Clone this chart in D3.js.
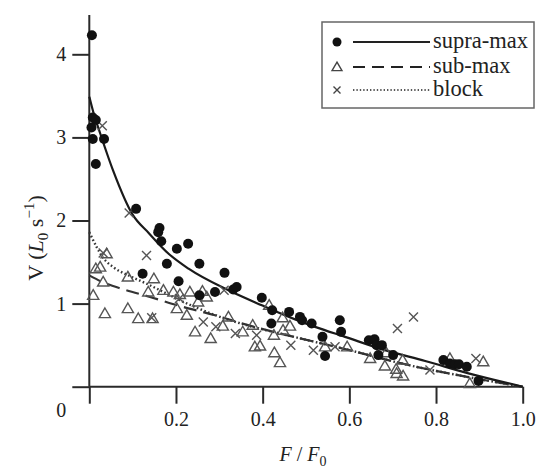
<!DOCTYPE html>
<html>
<head>
<meta charset="utf-8">
<script src="https://cdn.jsdelivr.net/npm/d3@7"></script>
<style>
  html, body { margin: 0; padding: 0; background: #fff; }
  svg { display: block; }
  svg text { font-family: "Liberation Serif", "Times New Roman", Times, Tinos, "Noto Serif", "DejaVu Serif", serif; fill: #222; }
</style>
</head>
<body>
<svg id="chart" width="536" height="468"></svg>
<script>
// ---- data ----
const xTicks = [0, 0.2, 0.4, 0.6, 0.8, 1.0];
const xTickLabels = ["", "0.2", "0.4", "0.6", "0.8", "1.0"];
const yTicks = [0, 1, 2, 3, 4];
const yTickLabels = ["", "1", "2", "3", "4"];

// supra-max points (filled circles)
const supraF = [0.006, 0.008, 0.015, 0.005, 0.008, 0.034, 0.015, 0.108, 0.162, 0.159, 0.166, 0.202, 0.228, 0.179, 0.254,
  0.123, 0.206, 0.312, 0.290, 0.332, 0.340, 0.254, 0.398, 0.422, 0.420, 0.461, 0.486, 0.491, 0.513, 0.578, 0.581, 0.538,
  0.544, 0.645, 0.658, 0.663, 0.675, 0.667, 0.701, 0.817, 0.832, 0.844, 0.853, 0.871, 0.898];
const supraV = [4.23, 3.24, 3.21, 3.12, 2.98, 2.98, 2.68, 2.14, 1.91, 1.86, 1.75, 1.66, 1.72, 1.48, 1.48,
  1.36, 1.27, 1.37, 1.14, 1.17, 1.20, 1.10, 1.07, 0.92, 0.76, 0.90, 0.84, 0.80, 0.76, 0.80, 0.66, 0.60,
  0.37, 0.56, 0.57, 0.50, 0.50, 0.38, 0.38, 0.32, 0.28, 0.27, 0.27, 0.24, 0.07];

// sub-max points (open triangles)
const subF = [0.040, 0.015, 0.025, 0.032, 0.009, 0.089, 0.149, 0.036, 0.089, 0.113, 0.146, 0.136, 0.171, 0.194, 0.209,
  0.232, 0.261, 0.271, 0.251, 0.202, 0.225, 0.244, 0.280, 0.321, 0.308, 0.354, 0.377, 0.382, 0.394, 0.415, 0.426,
  0.427, 0.440, 0.446, 0.447, 0.463, 0.544, 0.595, 0.648, 0.685, 0.682, 0.708, 0.709, 0.724, 0.723, 0.832, 0.909, 0.878];
const subV = [1.60, 1.42, 1.44, 1.26, 1.10, 1.32, 1.30, 0.88, 0.94, 0.82, 0.82, 1.14, 1.16, 1.14, 1.11,
  1.14, 1.15, 1.08, 1.02, 0.94, 0.86, 0.66, 0.58, 0.84, 0.73, 0.66, 0.74, 0.48, 0.49, 0.98, 0.62,
  0.41, 0.29, 0.83, 0.68, 0.73, 0.48, 0.48, 0.34, 0.41, 0.25, 0.21, 0.16, 0.13, 0.32, 0.34, 0.30, 0.04];

// block points (crosses)
const blockF = [0.030, 0.092, 0.032, 0.132, 0.144, 0.208, 0.263, 0.292, 0.311, 0.337, 0.386, 0.465, 0.517, 0.567,
  0.711, 0.748, 0.786, 0.892];
const blockV = [3.14, 2.09, 1.61, 1.58, 0.83, 1.06, 0.78, 0.72, 1.16, 0.64, 0.62, 0.50, 0.44, 0.48,
  0.70, 0.84, 0.20, 0.34];

// fitted curves
const supraCurveF = [0, 0.010, 0.025, 0.055, 0.100, 0.137, 0.183, 0.229, 0.321, 0.398, 0.475, 0.521, 0.590, 0.682, 0.775, 0.875, 1.0];
const supraCurveV = [3.49, 3.29, 3.05, 2.60, 2.07, 1.85, 1.60, 1.42, 1.16, 0.98, 0.81, 0.72, 0.60, 0.44, 0.31, 0.16, 0];
const subCurveF = [0, 0.03, 0.08, 0.14, 0.21, 0.29, 0.36, 0.44, 0.52, 0.60, 0.72, 0.88, 1.0];
const subCurveV = [1.34, 1.26, 1.17, 1.08, 0.97, 0.86, 0.75, 0.64, 0.54, 0.44, 0.28, 0.11, 0];
const blockCurveF = [0, 0.017, 0.032, 0.055, 0.094, 0.132, 0.171, 0.209, 0.248, 0.286, 0.325, 0.363, 0.40, 0.44, 0.52, 0.60, 0.72, 0.88, 1.0];
const blockCurveV = [1.86, 1.68, 1.55, 1.44, 1.33, 1.24, 1.14, 1.04, 0.95, 0.87, 0.80, 0.74, 0.69, 0.64, 0.54, 0.44, 0.28, 0.11, 0];

const legendLabels = ["supra-max", "sub-max", "block"];

// ---- drawing ----
const svg = d3.select("#chart");
const x = d3.scaleLinear().domain([0, 1]).range([89.3, 522.7]);
const y = d3.scaleLinear().domain([0, 4]).range([386.7, 54.3]);
const axisColor = "#2a2a2a";
const tickLen = 17;
const FONT = "'Liberation Serif', 'Times New Roman', Times, Tinos, 'Noto Serif', 'DejaVu Serif', serif";

// axes
const xAxis = d3.axisBottom(x).tickValues(xTicks).tickSize(tickLen).tickPadding(8)
  .tickFormat((d, i) => xTickLabels[i]);
const gx = svg.append("g").attr("transform", `translate(0,${y(0)})`).call(xAxis);
gx.attr("font-family", FONT);
gx.select(".domain").remove();
gx.selectAll(".tick line").attr("stroke", axisColor).attr("stroke-width", 2);
gx.selectAll(".tick text").attr("font-size", 20).attr("fill", "#222");

const yAxis = d3.axisLeft(y).tickValues(yTicks).tickSize(tickLen).tickPadding(6)
  .tickFormat((d, i) => yTickLabels[i]);
const gy = svg.append("g").attr("transform", `translate(${x(0)},0)`).call(yAxis);
gy.attr("font-family", FONT);
gy.select(".domain").remove();
gy.selectAll(".tick line").attr("stroke", axisColor).attr("stroke-width", 2);
gy.selectAll(".tick text").attr("font-size", 20).attr("fill", "#222");

// axis lines
svg.append("line").attr("x1", x(0)).attr("x2", x(1)).attr("y1", y(0)).attr("y2", y(0))
  .attr("stroke", axisColor).attr("stroke-width", 2);
svg.append("line").attr("x1", x(0)).attr("x2", x(0)).attr("y1", y(0)).attr("y2", 15)
  .attr("stroke", axisColor).attr("stroke-width", 2);

// origin label
svg.append("text").attr("x", x(0) - 23).attr("y", 417).attr("text-anchor", "end")
  .attr("font-size", 20).text("0");

// axis titles
const xt = svg.append("text").attr("x", 303).attr("y", 461).attr("text-anchor", "middle").attr("font-size", 20);
xt.append("tspan").attr("font-style", "italic").text("F");
xt.append("tspan").text(" / ");
xt.append("tspan").attr("font-style", "italic").text("F");
xt.append("tspan").attr("font-size", 14).attr("dy", 5).text("0");

const yt = svg.append("text").attr("transform", "translate(43,238) rotate(-90)")
  .attr("text-anchor", "middle").attr("font-size", 22);
yt.append("tspan").text("V (");
yt.append("tspan").attr("font-style", "italic").text("L");
yt.append("tspan").attr("font-size", 15).attr("dy", 5).text("0");
yt.append("tspan").attr("dy", -5).text(" s");
yt.append("tspan").attr("font-size", 15).attr("dy", -9).text("\u22121");
yt.append("tspan").attr("dy", 9).text(")");

// curves
const line = d3.line().x(d => x(d[0])).y(d => y(d[1])).curve(d3.curveMonotoneX);
const zip = (a, b) => a.map((v, i) => [v, b[i]]);

svg.append("path").datum(zip(blockCurveF, blockCurveV)).attr("d", line)
  .attr("fill", "none").attr("stroke", "#333").attr("stroke-width", 2.4).attr("stroke-dasharray", "1.6,2.4");
svg.append("path").datum(zip(subCurveF, subCurveV)).attr("d", line)
  .attr("fill", "none").attr("stroke", "#333").attr("stroke-width", 2.2).attr("stroke-dasharray", "13,7");
svg.append("path").datum(zip(supraCurveF, supraCurveV)).attr("d", line)
  .attr("fill", "none").attr("stroke", "#1a1a1a").attr("stroke-width", 2.2);

// markers
const triPath = (cx, cy, s) => `M${cx},${cy - s * 0.62}L${cx + s * 0.62},${cy + s * 0.45}L${cx - s * 0.62},${cy + s * 0.45}Z`;
const crossPath = (cx, cy, s) => `M${cx - s},${cy - s}L${cx + s},${cy + s}M${cx - s},${cy + s}L${cx + s},${cy - s}`;

svg.append("g").selectAll("path").data(zip(subF, subV)).join("path")
  .attr("d", d => triPath(x(d[0]), y(d[1]), 9))
  .attr("fill", "none").attr("stroke", "#555").attr("stroke-width", 1.4);

svg.append("g").selectAll("path").data(zip(blockF, blockV)).join("path")
  .attr("d", d => crossPath(x(d[0]), y(d[1]), 4.5))
  .attr("fill", "none").attr("stroke", "#555").attr("stroke-width", 1.4);

svg.append("g").selectAll("circle").data(zip(supraF, supraV)).join("circle")
  .attr("cx", d => x(d[0])).attr("cy", d => y(d[1])).attr("r", 5).attr("fill", "#111");

// legend
const lg = svg.append("g");
lg.append("rect").attr("x", 322).attr("y", 22).attr("width", 212).attr("height", 86)
  .attr("fill", "#fff").attr("stroke", "#666").attr("stroke-width", 1.5);
const rowsY = [42, 67, 90];
const styles = [
  { dash: null, w: 2 },
  { dash: "12,7", w: 2 },
  { dash: "1.4,2", w: 1.6 }
];
legendLabels.forEach((lab, i) => {
  const ry = rowsY[i];
  if (i === 0) lg.append("circle").attr("cx", 337).attr("cy", ry).attr("r", 4.5).attr("fill", "#111");
  if (i === 1) lg.append("path").attr("d", triPath(337, ry, 8)).attr("fill", "none").attr("stroke", "#444").attr("stroke-width", 1.4);
  if (i === 2) lg.append("path").attr("d", crossPath(337, ry, 3.5)).attr("fill", "none").attr("stroke", "#444").attr("stroke-width", 1.4);
  const l = lg.append("line").attr("x1", 353).attr("x2", 430).attr("y1", ry).attr("y2", ry)
    .attr("stroke", "#222").attr("stroke-width", styles[i].w);
  if (styles[i].dash) l.attr("stroke-dasharray", styles[i].dash);
  lg.append("text").attr("x", 433).attr("y", ry + 6).attr("font-size", 22.5).text(lab);
});
</script>
</body>
</html>
